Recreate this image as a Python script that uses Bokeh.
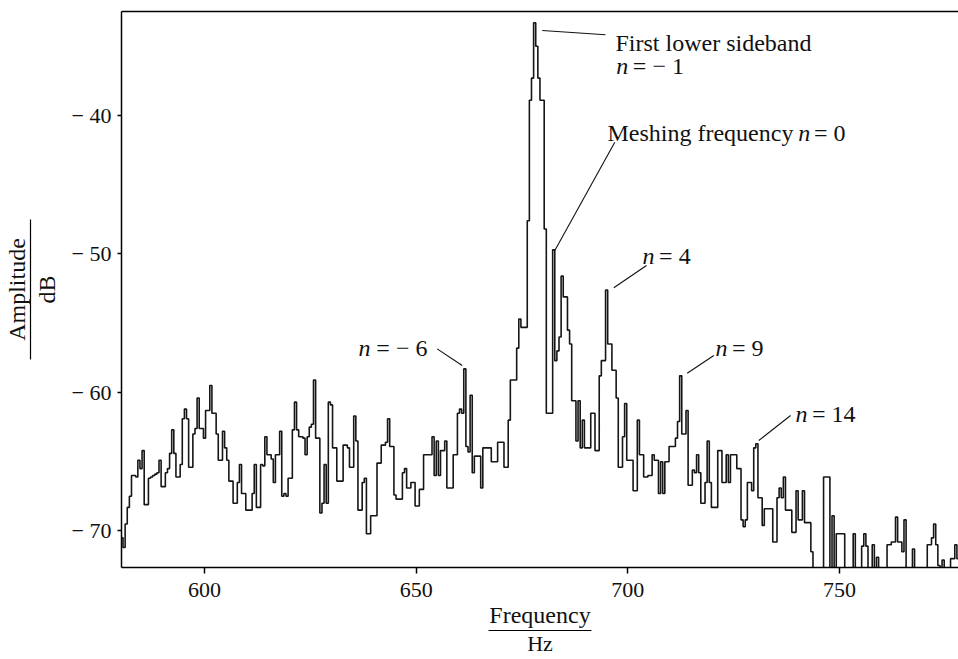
from bokeh.plotting import figure
from bokeh.models import Range1d, FixedTicker, Label, Arrow, LinearAxis
from bokeh.embed import file_html
from bokeh.resources import INLINE

# ---------------- data ----------------
FREQ_START_HZ = 580.0
FREQ_STEP_HZ = 0.5

amplitude_db = [
    -71.0, -70.5, -71.2, -69.5, -68.3, -67.5, -66.0, -66.0, -66.1, -64.9,   # 580
    -65.5, -64.2, -68.1, -68.1, -66.2, -66.1, -66.0, -65.9, -65.8, -64.9,   # 585
    -66.8, -66.8, -65.8, -65.5, -64.4, -62.7, -64.4, -66.1, -66.1, -65.2,   # 590
    -61.9, -61.2, -61.9, -65.4, -65.4, -63.0, -62.6, -60.4, -62.6, -62.6,   # 595
    -63.3, -61.3, -61.3, -59.5, -61.5, -61.5, -63.0, -64.9, -64.9, -62.8,   # 600
    -64.0, -64.9, -66.4, -66.4, -68.0, -68.0, -66.5, -65.2, -67.3, -67.3,   # 605
    -68.5, -68.5, -68.5, -67.3, -65.2, -68.3, -68.3, -65.2, -65.3, -63.2,   # 610
    -64.5, -64.5, -64.8, -66.5, -64.5, -64.5, -62.8, -67.5, -67.3, -67.5,   # 615
    -66.2, -66.2, -62.7, -60.7, -62.7, -63.2, -63.2, -63.3, -64.5, -63.2,   # 620
    -62.5, -62.3, -59.1, -63.3, -63.3, -68.7, -68.0, -65.2, -68.0, -60.7,   # 625
    -60.9, -64.0, -64.0, -66.4, -66.4, -66.4, -63.8, -63.8, -64.0, -65.4,   # 630
    -65.4, -61.7, -63.5, -68.5, -68.5, -66.5, -66.2, -70.2, -70.2, -68.9,   # 635
    -68.9, -68.9, -65.1, -65.1, -63.8, -63.8, -63.6, -61.9, -63.9, -63.9,   # 640
    -67.4, -67.7, -67.7, -67.7, -65.8, -65.5, -66.9, -66.9, -66.5, -66.5,   # 645
    -68.2, -68.2, -67.0, -67.0, -64.5, -64.5, -64.5, -64.5, -63.2, -66.0,   # 650
    -63.5, -66.0, -64.2, -64.2, -63.5, -66.9, -66.9, -66.9, -64.5, -64.5,   # 655
    -61.5, -61.2, -61.5, -58.3, -63.9, -64.3, -60.2, -65.8, -64.6, -64.6,   # 660
    -64.6, -66.9, -64.0, -64.0, -64.0, -64.0, -65.0, -65.0, -65.0, -63.6,   # 665
    -63.6, -63.6, -65.4, -65.4, -62.0, -59.1, -59.1, -59.1, -56.8, -54.7,   # 670
    -55.3, -55.3, -55.3, -47.6, -38.9, -37.3, -33.3, -35.0, -37.3, -38.9,   # 675
    -38.9, -48.2, -61.5, -61.5, -61.5, -49.7, -57.7, -57.0, -56.0, -51.6,   # 680
    -53.1, -53.1, -55.5, -56.5, -60.6, -60.6, -63.5, -60.6, -64.0, -62.0,   # 685
    -64.0, -64.0, -64.0, -61.5, -61.5, -64.2, -64.2, -58.8, -57.7, -57.7,   # 690
    -52.6, -56.5, -56.5, -58.4, -58.4, -60.4, -65.4, -65.4, -63.2, -60.8,   # 695
    -64.9, -64.9, -64.9, -67.1, -67.1, -62.0, -64.5, -64.5, -66.1, -66.1,   # 700
    -66.0, -66.0, -64.5, -64.9, -64.9, -67.3, -65.0, -67.3, -65.0, -65.0,   # 705
    -63.9, -63.9, -63.9, -63.3, -62.1, -58.8, -63.0, -63.0, -61.3, -66.7,   # 710
    -66.7, -65.6, -65.8, -64.5, -65.8, -68.0, -68.0, -66.5, -63.5, -66.5,   # 715
    -68.3, -68.3, -68.3, -64.2, -64.2, -66.5, -66.5, -64.5, -66.5, -64.5,   # 720
    -64.5, -64.5, -65.5, -65.5, -69.2, -69.7, -69.2, -66.5, -66.5, -67.1,   # 725
    -64.0, -63.7, -67.6, -67.6, -69.6, -68.4, -68.4, -68.4, -68.4, -70.8,   # 730
    -70.8, -67.6, -66.9, -67.6, -66.1, -68.5, -68.5, -68.5, -70.1, -70.1,   # 735
    -67.1, -69.2, -69.2, -67.1, -69.4, -69.4, -69.4, -71.5, -73.0, -73.0,   # 740
    -73.0, -73.0, -73.0, -66.1, -66.1, -66.1, -73.0, -68.9, -73.0, -70.2,   # 745
    -70.2, -70.2, -70.2, -73.0, -73.0, -73.0, -73.0, -70.2, -73.0, -73.0,   # 750
    -73.0, -71.1, -70.2, -71.1, -73.0, -73.0, -71.0, -73.0, -71.9, -73.0,   # 755
    -73.0, -73.0, -73.0, -71.0, -71.0, -70.8, -70.8, -69.0, -70.8, -70.8,   # 760
    -71.5, -69.2, -73.0, -73.0, -73.0, -71.3, -73.0, -73.0, -73.0, -73.0,   # 765
    -73.0, -73.0, -71.0, -71.0, -70.5, -69.5, -71.0, -72.5, -73.0, -72.1,   # 770
    -73.0, -73.0, -73.0, -72.0, -72.0, -71.0, -72.0,                        # 775
]
freq_hz = [FREQ_START_HZ + FREQ_STEP_HZ * i for i in range(len(amplitude_db))]

x_ticks = [600, 650, 700, 750]
y_ticks = [-70, -60, -50, -40]
y_tick_labels = {-70: "\u2212 70", -60: "\u2212 60", -50: "\u2212 50", -40: "\u2212 40"}

x_title_top = "Frequency"
x_title_bottom = "Hz"
y_title_top = "Amplitude"
y_title_bottom = "dB"

# peak annotations (text after the italic n)
ann_first = "First lower sideband"
ann_first_n = "= \u2212 1"
ann_mesh = "Meshing frequency"
ann_mesh_n = "= 0"
ann_n4 = "= 4"
ann_n9 = "= 9"
ann_nm6 = "= \u2212 6"
ann_n14 = "= 14"

SERIF = "Liberation Serif"
INK = "#111111"

# ---------------- figure ----------------
p = figure(width=958, height=659,
           x_range=Range1d(580.39, 778.13), y_range=Range1d(-72.64, -32.49),
           output_backend="svg", toolbar_location=None,
           min_border_left=121, min_border_right=0,
           min_border_top=11, min_border_bottom=92)
p.background_fill_color = "white"
p.border_fill_color = "white"
p.outline_line_color = None
p.xgrid.visible = False
p.ygrid.visible = False

p.step(freq_hz, amplitude_db, mode="center", line_color="#161616", line_width=1.6)

for ax in (p.xaxis[0], p.yaxis[0]):
    ax.axis_line_color = "black"
    ax.axis_line_width = 1.5
    ax.major_tick_line_color = "black"
    ax.major_tick_line_width = 1.5
    ax.major_tick_in = 0
    ax.minor_tick_line_color = None
    ax.major_label_text_font = SERIF
    ax.major_label_text_font_size = "22px"
    ax.major_label_text_color = INK

p.xaxis[0].ticker = FixedTicker(ticks=x_ticks)
p.xaxis[0].major_tick_out = 6
p.xaxis[0].major_label_standoff = 9
p.yaxis[0].ticker = FixedTicker(ticks=y_ticks)
p.yaxis[0].major_label_overrides = y_tick_labels
p.yaxis[0].major_tick_out = 4
p.yaxis[0].major_label_standoff = 6


def bare_axis(label, bounds, standoff, show_line, size="24px"):
    ax = LinearAxis(ticker=FixedTicker(ticks=[]), bounds=bounds,
                    major_tick_in=0, major_tick_out=0, major_label_standoff=0,
                    major_tick_line_color=None, minor_tick_line_color=None,
                    axis_line_color="black" if show_line else None, axis_line_width=1.2,
                    axis_label=label, axis_label_standoff=standoff,
                    axis_label_text_font=SERIF, axis_label_text_font_style="normal",
                    axis_label_text_font_size=size, axis_label_text_color=INK)
    return ax


# top frame line (no ticks)
p.add_layout(LinearAxis(ticker=FixedTicker(ticks=[]), major_tick_in=0, major_tick_out=0,
                        major_label_standoff=0, minor_tick_line_color=None,
                        axis_line_color="black", axis_line_width=1.5), "above")

# x title as a fraction: Frequency / Hz (axis titles centre on the frame)
x_frac_bounds = (666.98, 691.54)
p.add_layout(bare_axis(x_title_top, x_frac_bounds, 2, False), "below")
p.add_layout(bare_axis(x_title_bottom, x_frac_bounds, 0, True, size="22px"), "below")

# y title as a fraction: Amplitude / dB
y_frac_bounds = (-57.61, -47.51)
p.add_layout(bare_axis(y_title_bottom, y_frac_bounds, 9, False), "left")
p.add_layout(bare_axis(y_title_top, y_frac_bounds, 1, True), "left")


def txt(x, y, t, italic=False, size="24px"):
    p.add_layout(Label(x=x, y=y, text=t, text_font=SERIF, text_font_size=size,
                       text_font_style="italic" if italic else "normal",
                       text_color=INK, text_align="left", text_baseline="alphabetic"))


def leader(x0, y0, x1, y1):
    p.add_layout(Arrow(end=None, start=None, x_start=x0, y_start=y0, x_end=x1, y_end=y1,
                       line_color=INK, line_width=1.1))


# annotation texts (data coordinates)
txt(697.1, -34.73, ann_first)
txt(697.3, -36.39, "n", italic=True)
txt(701.2, -36.39, ann_first_n)
txt(695.2, -41.23, ann_mesh)
txt(740.3, -41.23, "n", italic=True)
txt(744.0, -41.23, ann_mesh_n)
txt(703.5, -50.11, "n", italic=True)
txt(707.4, -50.11, ann_n4)
txt(720.7, -56.82, "n", italic=True)
txt(724.6, -56.82, ann_n9)
txt(636.4, -56.82, "n", italic=True)
txt(640.6, -56.82, ann_nm6)
txt(739.6, -61.52, "n", italic=True)
txt(743.5, -61.52, ann_n14)

# leader lines
leader(679.78, -33.86, 694.73, -34.17)
leader(696.93, -41.93, 682.76, -49.75)
leader(704.42, -50.83, 696.69, -52.44)
leader(720.32, -57.33, 714.03, -58.61)
leader(654.97, -56.85, 660.88, -58.05)
leader(738.46, -61.66, 730.95, -63.47)

open("out.html", "w").write(file_html(p, INLINE))
